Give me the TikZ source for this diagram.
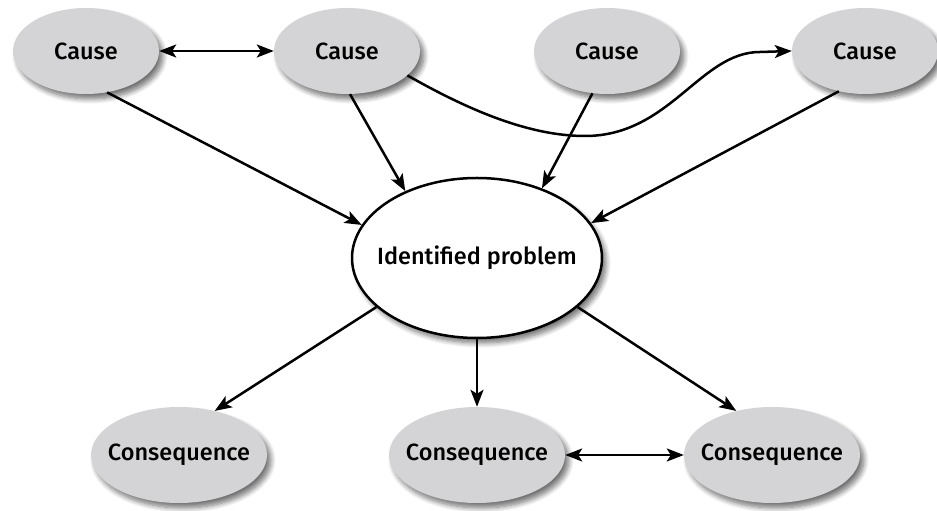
\documentclass[tikz,border=0pt]{standalone}
\usepackage{fontspec}
\setmainfont{Fira Sans}[UprightFont=* Medium]
\usetikzlibrary{arrows.meta,shapes.geometric,shadows.blur}
\definecolor{causefill}{HTML}{D4D4D6}
\tikzset{
  bub/.style={ellipse, inner ysep=0pt, inner xsep=-25pt, font=\fontsize{23.5}{27}\selectfont,
    blur shadow={shadow xshift=4pt, shadow yshift=-5pt, shadow blur steps=8, shadow opacity=55, shadow blur radius=5pt}},
  cause/.style={bub, fill=causefill, minimum width=146pt, minimum height=86pt},
  cons/.style={bub, fill=causefill, minimum width=176pt, minimum height=96pt},
  prob/.style={bub, fill=white, draw=black, line width=2.5pt, minimum width=250pt, minimum height=160pt},
  arr/.style={line width=2.5pt, -{Stealth[length=17pt,width=13pt,inset=4pt]}},
  darr/.style={line width=2.5pt, {Stealth[length=17pt,width=13pt,inset=4pt]}-{Stealth[length=17pt,width=13pt,inset=4pt]}}
}
\begin{document}
\begin{tikzpicture}[x=1pt,y=1pt]
\useasboundingbox (0,0) rectangle (937,511);
\node[cause] (c1) at (86,460) {Cause};
\node[cause] (c2) at (347,460) {Cause};
\node[cause] (c3) at (607,460) {Cause};
\node[cause] (c4) at (865,460) {Cause};
\node[prob] (ip) at (477,253) {Identified problem};
\node[cons] (k1) at (179,56) {Consequence};
\node[cons] (k2) at (477,56) {Consequence};
\node[cons] (k3) at (772,56) {Consequence};
\draw[darr] (c1.east) -- (c2.west);
\draw[darr] (k2.east) -- (k3.west);
\draw[arr] (c1.297) -- (ip.164);
\draw[arr] (c2.274) -- (ip.137);
\draw[arr] (c3.251) -- (ip.47);
\draw[arr] (c4.237) -- (ip.17);
\draw[arr] (ip.206) -- (k1.51);
\draw[arr] (ip.270) -- (k2.90);
\draw[arr] (ip.334) -- (k3.129);
\draw[arr] (c2.338) .. controls (470,400) and (530,375) .. (585,375)
   .. controls (670,375) and (700,459) .. (760,459) -- (c4.180);
\end{tikzpicture}
\end{document}
